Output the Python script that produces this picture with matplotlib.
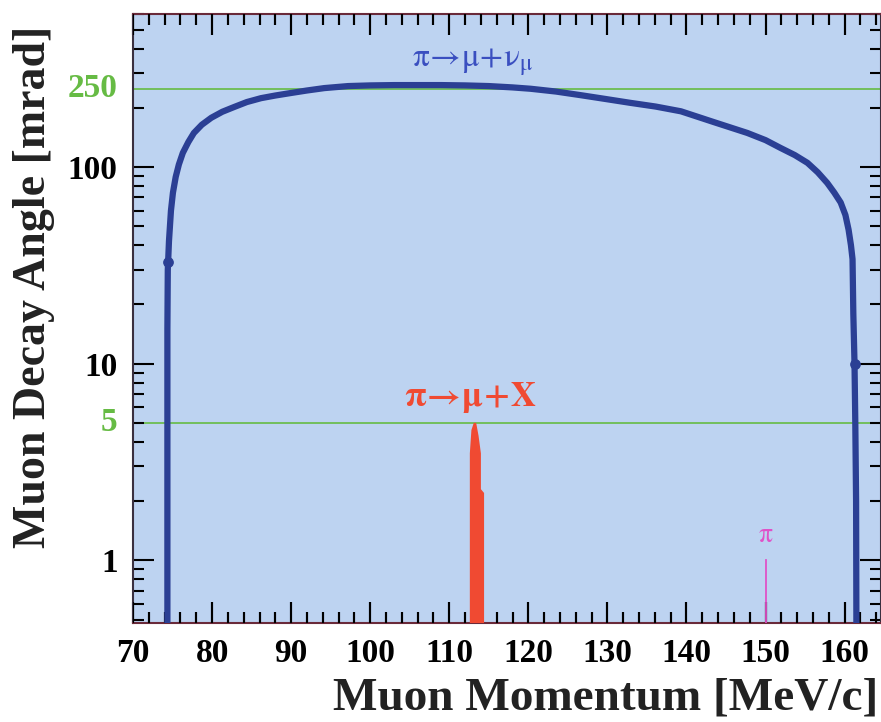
import math
import matplotlib
matplotlib.use("Agg")
import matplotlib.pyplot as plt
from matplotlib.ticker import MultipleLocator, LogLocator, NullFormatter, FixedLocator

plt.rcParams['font.family'] = ['Liberation Serif', 'DejaVu Serif']
plt.rcParams['mathtext.fontset'] = 'stix'

# =========================
# data
# =========================

# pi -> mu + nu_mu kinematic curve (muon momentum [MeV/c], angle [mrad])
p_mu = [74.35, 74.35, 74.40, 74.55, 74.80, 75.05, 75.40, 75.80, 76.30,
        77.00, 77.70, 78.70, 79.90, 81.30, 82.80, 84.40, 86.20, 88.00,
        90.00, 92.00, 94.20, 97.20, 100.0, 103.0, 106.0, 109.0, 112.0,
        115.0, 118.0, 120.3, 123.5, 126.6, 129.7, 132.9, 136.1, 139.3,
        143.5, 147.7, 150.0, 151.9, 153.7, 155.3, 156.6, 157.8, 158.7,
        159.5, 160.1, 160.5, 160.8, 161.0, 161.1, 161.25, 161.35, 161.45,
        161.5]
theta = [0.30, 15.0, 30.0, 42.0, 60.0, 74.0, 89.0, 103.0, 118.0,
         134.0, 149.0, 164.0, 178.0, 191.0, 202.0, 214.0, 224.0, 231.0,
         238.0, 245.0, 252.0, 258.0, 260.0, 261.0, 261.0, 261.0, 260.0,
         258.0, 254.0, 250.0, 242.0, 232.0, 222.0, 212.0, 203.0, 192.0,
         169.0, 149.0, 137.0, 125.0, 115.0, 105.0, 94.0, 83.0, 74.0,
         66.0, 57.0, 48.0, 40.0, 34.0, 18.0, 10.0, 5.0, 2.0,
         0.30]

# the two dots sitting on the curve
dot_p = [74.40, 161.25]
dot_theta = [33.0, 10.0]

# pi -> mu + X spike (outline)
red_p = [112.6, 112.6, 112.8, 113.1, 113.4, 113.7, 114.0, 114.0, 114.4, 114.4]
red_theta = [0.30, 3.5, 4.6, 5.0, 5.0, 4.3, 3.5, 2.3, 2.2, 0.30]

# pion line
pion_p = 150.0
pion_theta = 1.0

# reference levels
levels = [250, 5]

x_major = [70, 80, 90, 100, 110, 120, 130, 140, 150, 160]
y_major = [1, 10, 100]
y_major_labels = ["1", "10", "100"]

BG = "#bdd3f1"
BLUE = "#2b3f94"
GREEN = "#66bb44"
RED = "#f04a32"
PINK = "#e052c8"

MAJOR_LEN = 15  # points
MINOR_LEN = 8

# =========================
# axes + ticks
# =========================

fig = plt.figure(figsize=(8.81, 7.22), dpi=100)
ax = fig.add_axes([133 / 881, 1 - 623 / 722, (881 - 133) / 881, (623 - 14) / 722])
ax.set_facecolor(BG)
ax.set_yscale("log")
ax.set_xlim(70, 164.6)
ax.set_ylim(0.48, 600)

ax.xaxis.set_major_locator(FixedLocator(x_major))
ax.xaxis.set_minor_locator(MultipleLocator(2))
ax.yaxis.set_major_locator(FixedLocator(y_major))
ax.set_yticklabels(y_major_labels)
ax.yaxis.set_minor_locator(LogLocator(base=10, subs=range(2, 10)))
ax.yaxis.set_minor_formatter(NullFormatter())

ax.tick_params(which="both", direction="in", top=True, right=True,
               width=1.5, color="black")
ax.tick_params(which="major", length=MAJOR_LEN, pad=11, labelsize=24)
ax.tick_params(which="minor", length=MINOR_LEN)
for lab in ax.get_xticklabels() + ax.get_yticklabels():
    lab.set_fontweight("bold")

# x tick marks did not show up in the saved picture: draw them as short
# segments in data coordinates (log y) at the locator positions
ylo, yhi = ax.get_ylim()
ax_h_pt = ax.get_position().height * fig.get_figheight() * 72
dec_per_pt = math.log10(yhi / ylo) / ax_h_pt
for locs, length in [(ax.xaxis.get_majorticklocs(), MAJOR_LEN),
                     (ax.xaxis.get_minorticklocs(), MINOR_LEN)]:
    f = 10 ** (length * dec_per_pt)
    ax.vlines(locs, ylo, ylo * f, color="black", lw=1.5, zorder=2.6)
    ax.vlines(locs, yhi / f, yhi, color="black", lw=1.5, zorder=2.6)
ax.set_xlim(70, 164.6)
ax.set_ylim(ylo, yhi)

for side in ["left", "right"]:
    ax.spines[side].set_color("#3a3040")
    ax.spines[side].set_linewidth(1.5)
for side in ["top", "bottom"]:
    ax.spines[side].set_color("#6a2a3a")
    ax.spines[side].set_linewidth(1.5)

# =========================
# data marks
# =========================

for lv in levels:
    ax.axhline(lv, color=GREEN, lw=1.2, zorder=1)

ax.plot(p_mu, theta, color=BLUE, lw=4.5, solid_joinstyle="round", zorder=3)
ax.scatter(dot_p, dot_theta, s=45, color=BLUE, zorder=4)
ax.fill(red_p, red_theta, color=RED, lw=0, zorder=3)
ax.plot([pion_p, pion_p], [0.3, pion_theta], color=PINK, lw=1.3, zorder=3)
ax.set_xlim(70, 164.6)
ax.set_ylim(ylo, yhi)

# labels inside
ax.text(113.0, 323, r"$\mathrm{\pi\!\rightarrow\!\mu\!+\!\nu_{\mu}}$",
        color="#3a4fc0", fontsize=24, ha="center", va="baseline")
ax.text(112.7, 6.1, r"$\mathbf{\pi\!\rightarrow\!\mu\!+\!X}$", color=RED,
        fontsize=25, ha="center", va="baseline")
ax.text(150.0, 1.235, r"$\mathrm{\pi}$", color=PINK, fontsize=20,
        ha="center", va="baseline")

for lv in levels:
    ax.annotate(str(lv), xy=(0, lv), xycoords=("axes fraction", "data"),
                xytext=(-11, 0), textcoords="offset points", ha="right",
                va="center", fontsize=24, fontweight="bold", color=GREEN)

fig.text(878 / 881, 1 - 710 / 722, "Muon Momentum [MeV/c]", ha="right",
         va="baseline", fontsize=34, fontweight="bold", color="#222222")
fig.text(34 / 881, 1 - 287 / 722, "Muon Decay Angle [mrad]", ha="center",
         va="center", rotation=90, fontsize=33, fontweight="bold",
         color="#222222")

fig.savefig("out.png", dpi=100, facecolor="white")
